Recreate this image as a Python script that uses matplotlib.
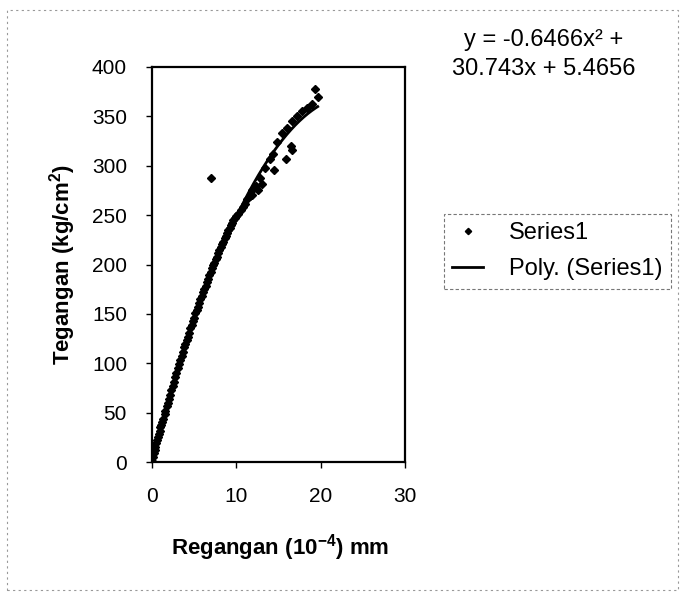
import matplotlib
matplotlib.use("Agg")
import matplotlib.pyplot as plt
import numpy as np
from matplotlib.patches import Rectangle

plt.rcParams['font.family'] = ['Liberation Sans', 'DejaVu Sans']
plt.rcParams['mathtext.fontset'] = 'custom'
plt.rcParams['mathtext.rm'] = 'Liberation Sans'
plt.rcParams['mathtext.bf'] = 'Liberation Sans:bold'

# measured points (strain in 10^-4 mm, stress in kg/cm2)
strain = [0.0, 0.1, 0.2, 0.3, 0.4, 0.5, 0.6, 0.7, 0.8, 0.9, 1.0, 1.1, 1.2,
          1.35, 1.5, 1.6, 1.75, 1.9, 2.0,
          2.15, 2.3, 2.45, 2.6, 2.75, 2.9, 3.05, 3.2, 3.35, 3.5, 3.65, 3.8,
          3.95, 4.1, 4.25, 4.4, 4.55, 4.7, 4.85, 5.0, 5.15, 5.3, 5.45, 5.6,
          5.75, 5.9, 6.05, 6.2, 6.35, 6.5, 6.65, 6.8, 6.95, 7.1, 7.25, 7.4,
          7.55, 7.7, 7.85, 8.0, 8.15, 8.3, 8.45, 8.6, 8.75, 8.9, 9.05, 9.2,
          9.35, 9.5, 9.65,
          9.85, 10.0, 10.2, 10.5, 10.8, 11.0, 11.3, 11.6, 11.9, 12.3, 12.8,
          13.4, 14.0, 14.4,
          14.8, 15.4, 16.0, 16.6, 17.2, 17.75, 18.35, 19.0, 19.3, 19.65,
          11.8, 12.6, 13.0, 14.5, 15.9, 16.5, 16.6, 6.96]
stress = [1, 5, 9, 12, 15, 19, 22, 25, 28, 31, 35, 37, 41,
          44, 49, 52, 57, 60, 64,
          68, 73, 77, 81, 86, 90, 95, 99, 103, 107, 111, 116,
          119, 124, 127, 131, 136, 139, 143, 146, 151, 154, 157, 161,
          165, 168, 172, 175, 178, 182, 185, 189, 192, 196, 199, 202,
          206, 208, 212, 215, 218, 221, 223, 227, 229, 232, 235, 237,
          240, 242, 245,
          247, 249, 251, 255, 258, 261, 266, 269, 275, 280, 288,
          298, 307, 312,
          324, 333, 338, 345, 350, 355, 358, 363, 378, 370,
          270, 275, 282, 296, 307, 320, 316, 288]

# trendline coefficients (a x^2 + b x + c) as printed on the chart
coef = [-0.6466, 30.743, 5.4656]
eq_lines = ["y = -0.6466x² +", "30.743x + 5.4656"]

x_ticks = [0, 10, 20, 30]
y_ticks = [0, 50, 100, 150, 200, 250, 300, 350, 400]

W, H = 683, 595
fig = plt.figure(figsize=(W / 100, H / 100), dpi=100)
ax = fig.add_axes([152 / W, 1 - 462 / H, (405 - 152) / W, (462 - 67) / H])

ax.plot(strain, stress, linestyle='none', marker='D', markersize=4,
        color='black', label='Series1')
xs = np.linspace(min(strain), max(strain), 200)
ax.plot(xs, np.polyval(coef, xs), color='black', linewidth=2,
        label='Poly. (Series1)')

ax.set_xlim(0, 30)
ax.set_ylim(0, 400)
ax.set_xticks(x_ticks)
ax.set_yticks(y_ticks)
ax.tick_params(direction='out', length=4, width=1, labelsize=15, pad=14)
for s in ax.spines.values():
    s.set_linewidth(1.6)

fig.text(280 / W, 1 - 548 / H, "Regangan (10$^{\\mathbf{-4}}$) mm",
         fontsize=16, fontweight='bold', ha='center', va='center')
fig.text(63 / W, 1 - 265 / H, "Tegangan (kg/cm$^{\\mathbf{2}}$)", fontsize=16,
         fontweight='bold', ha='center', va='center', rotation=90)

fig.text(544 / W, 1 - 40 / H, eq_lines[0], fontsize=17, ha='center', va='center')
fig.text(544 / W, 1 - 69 / H, eq_lines[1], fontsize=17, ha='center', va='center')

leg = fig.legend(loc='upper left', bbox_to_anchor=(444 / W, 1 - 214 / H),
                 borderaxespad=0, fontsize=17, handlelength=1.3,
                 handletextpad=1.1, borderpad=0.35, labelspacing=0.6,
                 fancybox=False, frameon=True, markerscale=0.8)
leg.get_frame().set_edgecolor('#555555')
leg.get_frame().set_linestyle((0, (3, 2)))
leg.get_frame().set_linewidth(0.8)

# dotted outline of the chart area
fig.patches.append(Rectangle((7 / W, 5 / H), (678 - 7) / W, (585 - 5) / H,
                             transform=fig.transFigure, fill=False,
                             edgecolor='#999999', linewidth=0.8,
                             linestyle=(0, (2, 3))))

fig.savefig("out.png", dpi=100)
